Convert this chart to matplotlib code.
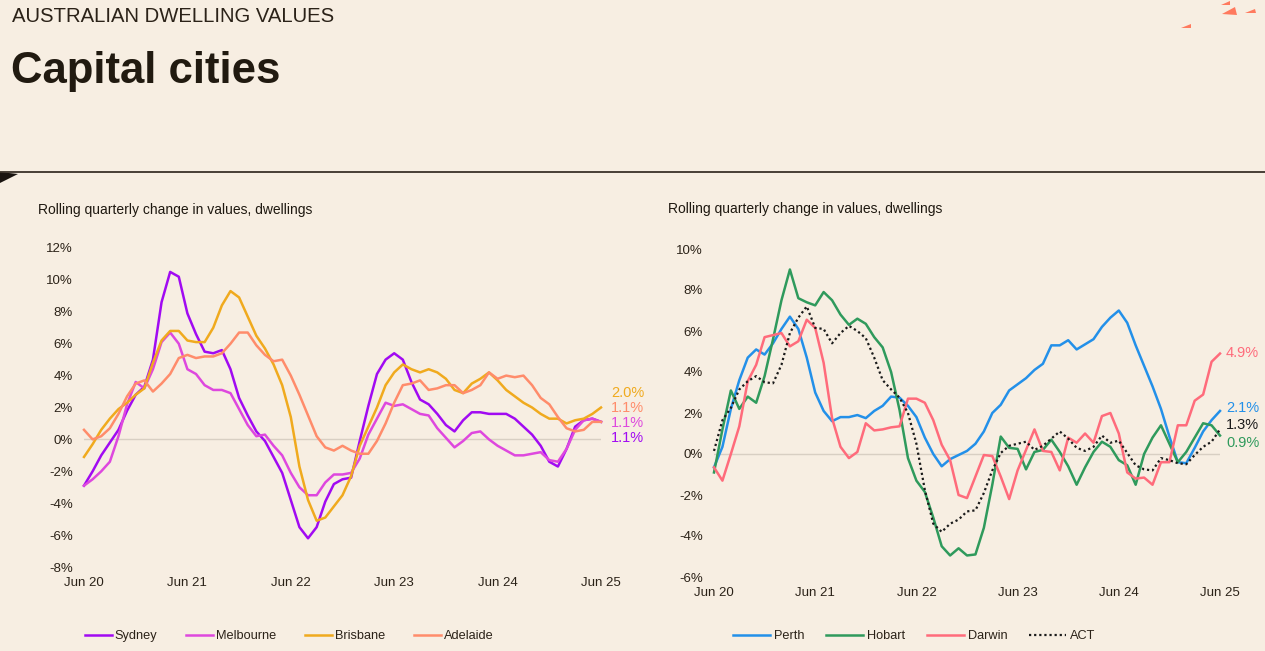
import matplotlib.pyplot as plt
from matplotlib.lines import Line2D
from matplotlib.patches import Polygon

plt.rcParams['font.family'] = ['Liberation Sans', 'DejaVu Sans']

W, H = 1265, 651
bg = '#F7EEE2'
ink = '#2B2218'

# Monthly rolling quarterly change (%), Jun 2020 .. Jun 2025
months = list(range(61))
tick_pos = [0, 12, 24, 36, 48, 60]
tick_labels = ['Jun 20', 'Jun 21', 'Jun 22', 'Jun 23', 'Jun 24', 'Jun 25']

sydney = [-2.9, -2.0, -1.0, -0.2, 0.6, 1.8, 2.8, 3.3, 5.0, 8.6,
          10.5, 10.2, 7.9, 6.6, 5.5, 5.4, 5.6, 4.4, 2.6, 1.5,
          0.5, -0.1, -1.1, -2.1, -3.8, -5.5, -6.2, -5.5, -3.9, -2.8,
          -2.5, -2.4, -0.1, 2.1, 4.1, 5.0, 5.4, 5.0, 3.6, 2.5,
          2.2, 1.6, 0.9, 0.5, 1.2, 1.7, 1.7, 1.6, 1.6, 1.6,
          1.3, 0.8, 0.3, -0.4, -1.4, -1.7, -0.6, 0.8, 1.2, 1.3, 1.1]
melbourne = [-2.9, -2.5, -2.0, -1.4, 0.2, 2.2, 3.6, 3.2, 4.4, 6.1,
             6.7, 6.0, 4.4, 4.1, 3.4, 3.1, 3.1, 2.9, 1.9, 0.9,
             0.2, 0.3, -0.4, -1.0, -2.1, -3.0, -3.5, -3.5, -2.7, -2.2,
             -2.2, -2.1, -1.2, 0.3, 1.3, 2.3, 2.1, 2.2, 1.9, 1.6,
             1.5, 0.7, 0.1, -0.5, -0.1, 0.4, 0.5, 0.0, -0.4, -0.7,
             -1.0, -1.0, -0.9, -0.8, -1.3, -1.4, -0.6, 0.6, 1.2, 1.3, 1.1]
brisbane = [-1.1, -0.3, 0.6, 1.3, 1.9, 2.3, 2.8, 3.2, 4.8, 6.2,
            6.8, 6.8, 6.2, 6.1, 6.1, 7.0, 8.4, 9.3, 8.9, 7.7,
            6.5, 5.7, 4.7, 3.4, 1.4, -1.7, -3.8, -5.1, -4.9, -4.2,
            -3.5, -2.3, -0.4, 0.8, 2.0, 3.4, 4.2, 4.7, 4.4, 4.2,
            4.4, 4.2, 3.8, 3.1, 2.9, 3.5, 3.8, 4.2, 3.7, 3.1,
            2.7, 2.3, 2.0, 1.6, 1.3, 1.3, 1.0, 1.2, 1.3, 1.6, 2.0]
adelaide = [0.6, 0.0, 0.2, 0.7, 1.6, 2.7, 3.5, 3.7, 3.0, 3.5,
            4.1, 5.1, 5.3, 5.1, 5.2, 5.2, 5.4, 6.0, 6.7, 6.7,
            5.9, 5.3, 4.9, 5.0, 4.0, 2.8, 1.5, 0.2, -0.5, -0.7,
            -0.4, -0.7, -0.9, -0.9, -0.1, 1.0, 2.3, 3.4, 3.5, 3.7,
            3.1, 3.2, 3.4, 3.4, 2.9, 3.1, 3.4, 4.2, 3.8, 4.0,
            3.9, 4.0, 3.4, 2.6, 2.2, 1.4, 0.7, 0.5, 0.6, 1.1, 1.1]

perth = [-0.65, 0.35, 2.2, 3.6, 4.7, 5.1, 4.85, 5.4, 6.1, 6.7,
         6.1, 4.7, 3.0, 2.1, 1.6, 1.8, 1.8, 1.9, 1.75, 2.1,
         2.35, 2.8, 2.75, 2.35, 1.8, 0.8, 0.0, -0.6, -0.25, -0.05,
         0.15, 0.5, 1.1, 2.0, 2.4, 3.1, 3.4, 3.7, 4.1, 4.4,
         5.3, 5.3, 5.55, 5.1, 5.35, 5.6, 6.2, 6.65, 7.0, 6.4,
         5.3, 4.3, 3.3, 2.2, 0.85, -0.4, -0.45, 0.3, 1.1, 1.65, 2.1]
hobart = [-0.9, 1.2, 3.1, 2.2, 2.8, 2.5, 3.8, 5.6, 7.5, 9.0,
          7.6, 7.4, 7.25, 7.9, 7.5, 6.8, 6.3, 6.6, 6.35, 5.7,
          5.2, 4.0, 2.15, -0.2, -1.3, -1.85, -3.1, -4.5, -4.95, -4.6,
          -4.95, -4.9, -3.6, -1.5, 0.85, 0.3, 0.25, -0.75, 0.1, 0.2,
          0.7, 0.1, -0.6, -1.5, -0.65, 0.1, 0.6, 0.35, -0.3, -0.55,
          -1.5, 0.0, 0.8, 1.4, 0.5, -0.4, 0.1, 0.8, 1.5, 1.4, 0.9]
darwin = [-0.65, -1.3, 0.0, 1.35, 3.55, 4.35, 5.7, 5.8, 5.9, 5.25,
          5.5, 6.55, 6.15, 4.45, 1.75, 0.35, -0.2, 0.1, 1.5, 1.15,
          1.2, 1.3, 1.35, 2.7, 2.7, 2.5, 1.65, 0.45, -0.3, -2.0,
          -2.15, -1.1, -0.05, -0.1, -1.1, -2.2, -0.8, 0.2, 1.2, 0.15,
          0.1, -0.8, 0.8, 0.55, 1.0, 0.55, 1.85, 2.0, 1.0, -0.9,
          -1.2, -1.15, -1.5, -0.4, -0.4, 1.4, 1.4, 2.6, 2.9, 4.5, 4.9]
act = [0.15, 1.65, 2.25, 3.15, 3.55, 3.8, 3.5, 3.45, 4.35, 5.9,
       6.65, 7.2, 6.15, 6.1, 5.4, 5.9, 6.25, 6.0, 5.65, 4.7,
       3.6, 3.15, 2.75, 2.0, 0.5, -1.75, -3.4, -3.8, -3.4, -3.2,
       -2.8, -2.75, -1.9, -0.8, 0.05, 0.4, 0.5, 0.6, 0.2, 0.4,
       0.75, 1.1, 0.75, 0.3, 0.15, 0.35, 0.9, 0.55, 0.65, 0.05,
       -0.55, -0.75, -0.8, -0.2, -0.3, -0.45, -0.5, -0.05, 0.35, 0.6, 1.2]

left_series = [('Sydney', sydney, '#A10AF2', '1.1%', 0.1),
               ('Melbourne', melbourne, '#DE48DE', '1.1%', 1.0),
               ('Brisbane', brisbane, '#F0AA1E', '2.0%', 2.9),
               ('Adelaide', adelaide, '#FF8C6B', '1.1%', 1.95)]
right_series = [('Perth', perth, '#2390E9', '2.1%', 2.25),
                ('Hobart', hobart, '#2F9A5C', '0.9%', 0.55),
                ('Darwin', darwin, '#FF6B7B', '4.9%', 4.95),
                ('ACT', act, '#1A1A1A', '1.3%', 1.42)]


def fx(px):
    return px / W


def fy(py):
    return 1 - py / H


fig = plt.figure(figsize=(W / 100, H / 100), dpi=100, facecolor=bg)

# Header
fig.text(fx(12), fy(17), 'AUSTRALIAN DWELLING VALUES', fontsize=14.6,
         color=ink, va='center', ha='left')
fig.text(fx(11), fy(83), 'Capital cities', fontsize=31.5, fontweight='bold',
         color='#211A10', va='baseline', ha='left')
fig.add_artist(Line2D([0, 1], [fy(171.5), fy(171.5)], color='#3A3128', lw=1.3))
fig.add_artist(Polygon([(fx(0), fy(172)), (fx(18), fy(174)), (fx(0), fy(183))],
                       closed=True, color='#1A1410', lw=0))

# little decorative wedges top right
wedges = [[(1181, 28), (1191, 24), (1191, 28)],
          [(1221, 5), (1230, 1), (1230, 5)],
          [(1222, 14), (1235, 7), (1237, 15)],
          [(1245, 13), (1255, 9), (1256, 13)]]
for w in wedges:
    fig.add_artist(Polygon([(fx(a), fy(b)) for a, b in w], closed=True,
                           color='#FF7A5E', lw=0))


def make_panel(rect, series, ylim, yticks, subtitle_xy, label_x, legend_cfg):
    ax = fig.add_axes(rect)
    ax.set_facecolor(bg)
    for s in ax.spines.values():
        s.set_visible(False)
    ax.axhline(0, color='#D8CFC3', lw=1, zorder=1)
    handles = []
    for name, vals, col, lab, ly in series:
        if name == 'ACT':
            ln, = ax.plot(months, vals, color=col, lw=1.6,
                          linestyle=(0, (1, 1.3)), clip_on=False, zorder=3)
        else:
            ln, = ax.plot(months, vals, color=col, lw=1.8, clip_on=False,
                          zorder=2)
        handles.append(ln)
        ax.text(label_x, ly, lab, color=col, fontsize=10.5, va='center',
                ha='left')
    ax.set_xlim(0, 60)
    ax.set_ylim(*ylim)
    ax.set_yticks(yticks)
    ax.set_yticklabels([f'{v}%' for v in yticks])
    ax.set_xticks(tick_pos)
    ax.set_xticklabels(tick_labels)
    ax.tick_params(axis='both', length=0, labelsize=9.5, colors=ink)
    ax.tick_params(axis='y', pad=8)
    ax.tick_params(axis='x', pad=7)
    fig.text(fx(subtitle_xy[0]), fy(subtitle_xy[1]),
             'Rolling quarterly change in values, dwellings',
             fontsize=10, color='#1E1810', va='center', ha='left')
    anchor, hl, cs, tp = legend_cfg
    fig.legend(handles, [s[0] for s in series], loc='center left',
               bbox_to_anchor=(fx(anchor[0]), fy(anchor[1])), ncol=4,
               frameon=False, fontsize=9.2, handlelength=hl,
               handletextpad=tp, columnspacing=cs, borderpad=0,
               borderaxespad=0, labelcolor=ink)
    return ax


make_panel([fx(84), fy(567), fx(601 - 84), (567 - 248) / H], left_series,
           (-8, 12), list(range(-8, 13, 2)), (38, 210), 61.2,
           ((85, 636), 2.1, 2.3, 0.2))
make_panel([fx(714), fy(577), fx(1220 - 714), (577 - 249) / H], right_series,
           (-6, 10), list(range(-6, 11, 2)), (668, 209), 60.7,
           ((733, 636), 2.9, 1.7, 0.3))

fig.savefig('out.png', dpi=100, facecolor=bg)
